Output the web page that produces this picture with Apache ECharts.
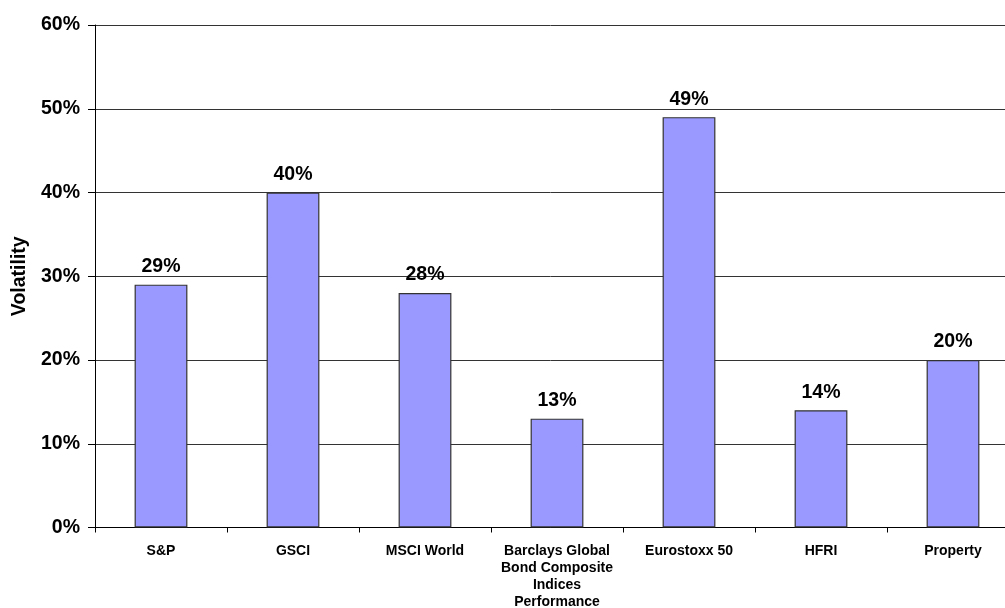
<!DOCTYPE html>
<html>
<head>
<meta charset="utf-8">
<script src="https://cdn.jsdelivr.net/npm/echarts@6/dist/echarts.min.js"></script>
<style>
  html, body { margin: 0; padding: 0; background: #fff; }
  #chart { width: 1005px; height: 608px; }
</style>
</head>
<body>
<div id="chart"></div>
<script>
// Annualised volatility by asset class
const categories = ['S&P', 'GSCI', 'MSCI World', 'Barclays Global\nBond Composite\nIndices\nPerformance', 'Eurostoxx 50', 'HFRI', 'Property'];
const volatility = [29, 40, 28, 13, 49, 14, 20];
const yTicks = [0, 10, 20, 30, 40, 50, 60];

const chart = echarts.init(document.getElementById('chart'));
const font = 'Liberation Sans, Arial, sans-serif';

chart.setOption({
  animation: false,
  // plot area runs past the right edge of the canvas
  grid: { left: 95, top: 25, right: -14, bottom: 80.5, containLabel: false, outerBoundsMode: 'none' },
  xAxis: {
    type: 'category',
    data: categories,
    axisLine: { lineStyle: { color: '#000', width: 1 } },
    axisTick: { show: true, length: 5, lineStyle: { color: '#000' } },
    axisLabel: {
      color: '#000', fontFamily: font, fontWeight: 'bold', fontSize: 14,
      lineHeight: 17, margin: 15, interval: 0
    }
  },
  yAxis: {
    type: 'value',
    min: yTicks[0], max: yTicks[yTicks.length - 1], interval: 10,
    name: 'Volatility',
    nameLocation: 'middle',
    nameGap: 65,
    nameRotate: 90,
    nameTextStyle: { color: '#000', fontFamily: font, fontWeight: 'bold', fontSize: 19.5 },
    axisLine: { show: true, lineStyle: { color: '#000', width: 1 } },
    axisTick: { show: true, inside: false, length: 7, lineStyle: { color: '#000' } },
    axisLabel: {
      color: '#000', fontFamily: font, fontWeight: 'bold', fontSize: 19.5, margin: 15,
      formatter: v => v + '%'
    },
    splitLine: { show: true, lineStyle: { color: '#333', width: 1 } }
  },
  series: [{
    type: 'bar',
    data: volatility,
    barWidth: '40%',
    itemStyle: { color: '#9999FF', borderColor: '#333', borderWidth: 1.2 },
    label: {
      show: true, position: 'top', distance: 8,
      color: '#000', fontFamily: font, fontWeight: 'bold', fontSize: 19.5,
      formatter: p => p.value + '%'
    }
  }]
});
</script>
</body>
</html>
